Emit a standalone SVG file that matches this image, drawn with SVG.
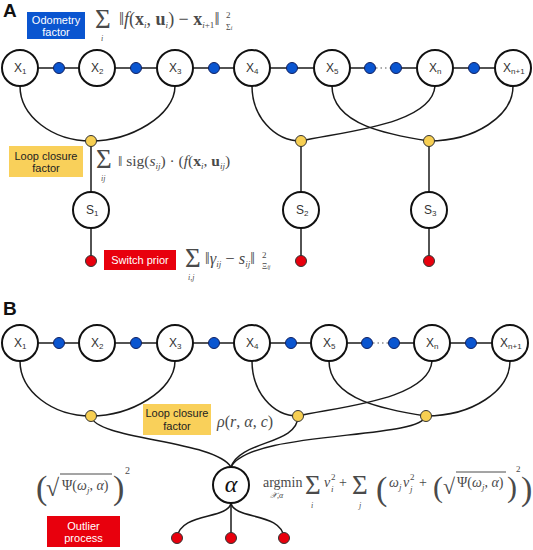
<svg xmlns="http://www.w3.org/2000/svg" width="533" height="550" viewBox="0 0 533 550">
<style>
.bg{fill:#ffffff}
.node circle{fill:#ffffff;stroke:#111111;stroke-width:2}
.lbl{font-family:"Liberation Sans",Arial,sans-serif;font-size:12px;fill:#333333}
.lbl .s{font-size:8px}
.edge{fill:none;stroke:#1a1a1a;stroke-width:1.5}
.dots{fill:none;stroke:#555555;stroke-width:1.2;stroke-dasharray:1.5 3}
.odo{fill:#0a55d0;stroke:#102060;stroke-width:1}
.loop{fill:#f7cf52;stroke:#333333;stroke-width:1}
.sw{fill:#e8000d;stroke:#333333;stroke-width:1}
.box-blue{fill:#0a55d0}
.box-yel{fill:#f9d05a}
.box-red{fill:#e8000d}
.bt{font-family:"Liberation Sans",Arial,sans-serif;font-size:11px;text-anchor:middle}
.w{fill:#ffffff}
.d{fill:#222222}
.panel{font-family:"Liberation Sans",Arial,sans-serif;font-size:19px;font-weight:bold;fill:#111111}
.m{font-family:"Liberation Serif","Times New Roman",serif;fill:#4a4a4a;font-size:14px}
.i{font-style:italic}
.b{font-weight:bold}
.sm{font-size:9px}
.ss{font-size:8px}
.sig{font-size:27px}
.alpha{font-family:"Liberation Serif","Times New Roman",serif;font-style:italic;font-size:24px;fill:#111111;text-anchor:middle}
</style>
<rect class="bg" x="0" y="0" width="533" height="550"/>

<!-- Panel labels -->
<text class="panel" x="3" y="17">A</text>
<text class="panel" x="3" y="315">B</text>

<!-- Connectors -->
<g id="connectors">
  <!-- Panel A chain -->
  <line class="edge" x1="38" y1="68" x2="79" y2="68"/>
  <line class="edge" x1="115" y1="68" x2="157" y2="68"/>
  <line class="edge" x1="193" y1="68" x2="234" y2="68"/>
  <line class="edge" x1="270" y1="68" x2="314" y2="68"/>
  <line class="edge" x1="350" y1="68" x2="370" y2="68"/>
  <line class="dots" x1="376" y1="68" x2="391" y2="68"/>
  <line class="edge" x1="396" y1="68" x2="417" y2="68"/>
  <line class="edge" x1="453" y1="68" x2="495" y2="68"/>
  <!-- Panel A loop closures -->
  <path class="edge" d="M20,86 C20,116 52,141 91,141"/>
  <path class="edge" d="M175,86 C175,116 130,141 91,141"/>
  <path class="edge" d="M252,86 C252,116 274,141 301,141"/>
  <path class="edge" d="M435,86 C432,125 340,132 301,141"/>
  <path class="edge" d="M332,86 C332,125 390,135 429,141"/>
  <path class="edge" d="M513,86 C513,116 475,141 429,141"/>
  <line class="edge" x1="91" y1="141" x2="91" y2="192"/>
  <line class="edge" x1="91" y1="228" x2="91" y2="261"/>
  <line class="edge" x1="301" y1="141" x2="301" y2="192"/>
  <line class="edge" x1="301" y1="228" x2="301" y2="261"/>
  <line class="edge" x1="429" y1="141" x2="429" y2="192"/>
  <line class="edge" x1="429" y1="228" x2="429" y2="261"/>

  <!-- Panel B chain -->
  <line class="edge" x1="38" y1="343" x2="79" y2="343"/>
  <line class="edge" x1="115" y1="343" x2="157" y2="343"/>
  <line class="edge" x1="193" y1="343" x2="234" y2="343"/>
  <line class="edge" x1="270" y1="343" x2="311" y2="343"/>
  <line class="edge" x1="347" y1="343" x2="367" y2="343"/>
  <line class="dots" x1="373" y1="343" x2="388" y2="343"/>
  <line class="edge" x1="394" y1="343" x2="414" y2="343"/>
  <line class="edge" x1="450" y1="343" x2="492" y2="343"/>
  <!-- Panel B loop closures -->
  <path class="edge" d="M20,361 C20,391 52,416 91,416"/>
  <path class="edge" d="M175,361 C175,391 130,416 91,416"/>
  <path class="edge" d="M252,361 C252,391 272,416 298,416"/>
  <path class="edge" d="M432,361 C429,400 337,407 298,416"/>
  <path class="edge" d="M329,361 C329,400 387,410 426,416"/>
  <path class="edge" d="M510,361 C510,391 472,416 426,416"/>
  <!-- to alpha -->
  <path class="edge" d="M91,416 C95,440 215,440 231,467"/>
  <path class="edge" d="M298,416 C298,445 240,440 231,467"/>
  <path class="edge" d="M426,416 C420,440 250,430 231,467"/>
  <!-- alpha to outlier priors -->
  <path class="edge" d="M231,503 C228,520 180,512 177,538"/>
  <line class="edge" x1="231" y1="503" x2="231" y2="538"/>
  <path class="edge" d="M231,503 C234,520 282,512 284,538"/>
</g>

<!-- Panel A nodes -->
<g id="A-X1" class="node"><circle cx="20" cy="68" r="18"/><text class="lbl" x="14" y="72">X<tspan class="s" dy="2">1</tspan></text></g>
<g id="A-X2" class="node"><circle cx="97" cy="68" r="18"/><text class="lbl" x="91" y="72">X<tspan class="s" dy="2">2</tspan></text></g>
<g id="A-X3" class="node"><circle cx="175" cy="68" r="18"/><text class="lbl" x="169" y="72">X<tspan class="s" dy="2">3</tspan></text></g>
<g id="A-X4" class="node"><circle cx="252" cy="68" r="18"/><text class="lbl" x="246" y="72">X<tspan class="s" dy="2">4</tspan></text></g>
<g id="A-X5" class="node"><circle cx="332" cy="68" r="18"/><text class="lbl" x="326" y="72">X<tspan class="s" dy="2">5</tspan></text></g>
<g id="A-Xn" class="node"><circle cx="435" cy="68" r="18"/><text class="lbl" x="429" y="72">X<tspan class="s" dy="2">n</tspan></text></g>
<g id="A-Xn1" class="node"><circle cx="513" cy="68" r="18"/><text class="lbl" x="503" y="72">X<tspan class="s" dy="2">n+1</tspan></text></g>

<g id="A-odo-factors">
  <circle class="odo" cx="59" cy="68" r="5.5"/>
  <circle class="odo" cx="136" cy="68" r="5.5"/>
  <circle class="odo" cx="214" cy="68" r="5.5"/>
  <circle class="odo" cx="292" cy="68" r="5.5"/>
  <circle class="odo" cx="370" cy="68" r="5.5"/>
  <circle class="odo" cx="396" cy="68" r="5.5"/>
  <circle class="odo" cx="474" cy="68" r="5.5"/>
</g>
<g id="A-loop-factors">
  <circle class="loop" cx="91" cy="141" r="5.5"/>
  <circle class="loop" cx="301" cy="141" r="5.5"/>
  <circle class="loop" cx="429" cy="141" r="5.5"/>
</g>
<g id="A-S1" class="node"><circle cx="91" cy="210" r="18"/><text class="lbl" x="86" y="214">S<tspan class="s" dy="2">1</tspan></text></g>
<g id="A-S2" class="node"><circle cx="301" cy="210" r="18"/><text class="lbl" x="296" y="214">S<tspan class="s" dy="2">2</tspan></text></g>
<g id="A-S3" class="node"><circle cx="429" cy="210" r="18"/><text class="lbl" x="424" y="214">S<tspan class="s" dy="2">3</tspan></text></g>
<g id="A-switch-priors">
  <circle class="sw" cx="91" cy="261" r="5.5"/>
  <circle class="sw" cx="301" cy="261" r="5.5"/>
  <circle class="sw" cx="429" cy="261" r="5.5"/>
</g>

<!-- Panel A legend boxes -->
<g id="A-odometry-label">
  <rect class="box-blue" x="27" y="12" width="58" height="27"/>
  <text class="bt w" x="56" y="24">Odometry</text>
  <text class="bt w" x="56" y="36">factor</text>
</g>
<g id="A-loop-label">
  <rect class="box-yel" x="9" y="146" width="74" height="31"/>
  <text class="bt d" x="46" y="160">Loop closure</text>
  <text class="bt d" x="46" y="172">factor</text>
</g>
<g id="A-switch-label">
  <rect class="box-red" x="104" y="250" width="72" height="20"/>
  <text class="bt w" x="140" y="264">Switch prior</text>
</g>

<!-- Panel A formulas -->
<g id="A-formula-odo">
  <text class="m sig" x="95" y="28">Σ</text>
  <text class="m i ss" x="101" y="41">i</text>
  <text class="m" x="119" y="25" style="font-size:18px">‖<tspan class="i">f</tspan>(<tspan class="b">x</tspan><tspan class="i sm" dy="3">i</tspan><tspan dy="-3">, </tspan><tspan class="b">u</tspan><tspan class="i sm" dy="3">i</tspan><tspan dy="-3">) − </tspan><tspan class="b">x</tspan><tspan class="i sm" dy="3">i</tspan><tspan class="sm">+1</tspan><tspan dy="-3">‖</tspan></text>
  <text class="m sm" x="226" y="18">2</text>
  <text class="m ss" x="226" y="30">Σ<tspan class="i" style="font-size:6px">i</tspan></text>
</g>
<g id="A-formula-loop">
  <text class="m sig" x="96" y="168">Σ</text>
  <text class="m i ss" x="101" y="181">ij</text>
  <text class="m" x="118" y="166" style="font-size:15.5px">‖ sig(<tspan class="i">s</tspan><tspan class="i sm" dy="3">ij</tspan><tspan dy="-3">) · (</tspan><tspan class="i">f</tspan>(<tspan class="b">x</tspan><tspan class="i sm" dy="3">i</tspan><tspan dy="-3">, </tspan><tspan class="b">u</tspan><tspan class="i sm" dy="3">ij</tspan><tspan dy="-3">)</tspan></text>
</g>
<g id="A-formula-switch">
  <text class="m sig" x="185" y="267">Σ</text>
  <text class="m i ss" x="188" y="280">i,j</text>
  <text class="m" x="205" y="264" style="font-size:16.5px">‖<tspan class="i">γ</tspan><tspan class="i sm" dy="3">ij</tspan><tspan dy="-3">  −  </tspan><tspan class="i">s</tspan><tspan class="i sm" dy="3">ij</tspan><tspan dy="-3">‖</tspan></text>
  <text class="m sm" x="262" y="258">2</text>
  <text class="m ss" x="262" y="269">Ξ<tspan class="i" style="font-size:6px">ij</tspan></text>
</g>

<!-- Panel B nodes -->
<g id="B-X1" class="node"><circle cx="20" cy="343" r="18"/><text class="lbl" x="14" y="347">X<tspan class="s" dy="2">1</tspan></text></g>
<g id="B-X2" class="node"><circle cx="97" cy="343" r="18"/><text class="lbl" x="91" y="347">X<tspan class="s" dy="2">2</tspan></text></g>
<g id="B-X3" class="node"><circle cx="175" cy="343" r="18"/><text class="lbl" x="169" y="347">X<tspan class="s" dy="2">3</tspan></text></g>
<g id="B-X4" class="node"><circle cx="252" cy="343" r="18"/><text class="lbl" x="246" y="347">X<tspan class="s" dy="2">4</tspan></text></g>
<g id="B-X5" class="node"><circle cx="329" cy="343" r="18"/><text class="lbl" x="323" y="347">X<tspan class="s" dy="2">5</tspan></text></g>
<g id="B-Xn" class="node"><circle cx="432" cy="343" r="18"/><text class="lbl" x="426" y="347">X<tspan class="s" dy="2">n</tspan></text></g>
<g id="B-Xn1" class="node"><circle cx="510" cy="343" r="18"/><text class="lbl" x="500" y="347">X<tspan class="s" dy="2">n+1</tspan></text></g>

<g id="B-odo-factors">
  <circle class="odo" cx="59" cy="343" r="5.5"/>
  <circle class="odo" cx="136" cy="343" r="5.5"/>
  <circle class="odo" cx="214" cy="343" r="5.5"/>
  <circle class="odo" cx="291" cy="343" r="5.5"/>
  <circle class="odo" cx="367" cy="343" r="5.5"/>
  <circle class="odo" cx="394" cy="343" r="5.5"/>
  <circle class="odo" cx="471" cy="343" r="5.5"/>
</g>
<g id="B-loop-factors">
  <circle class="loop" cx="91" cy="416" r="5.5"/>
  <circle class="loop" cx="298" cy="416" r="5.5"/>
  <circle class="loop" cx="426" cy="416" r="5.5"/>
</g>
<g id="B-alpha" class="node"><circle cx="231" cy="485" r="18"/><text class="alpha" x="231" y="492">α</text></g>
<g id="B-outlier-priors">
  <circle class="sw" cx="177" cy="538" r="5.5"/>
  <circle class="sw" cx="231" cy="538" r="5.5"/>
  <circle class="sw" cx="284" cy="538" r="5.5"/>
</g>

<!-- Panel B legend boxes -->
<g id="B-loop-label">
  <rect class="box-yel" x="143" y="404" width="68" height="31"/>
  <text class="bt d" x="177" y="417">Loop closure</text>
  <text class="bt d" x="177" y="430">factor</text>
</g>
<g id="B-outlier-label">
  <rect class="box-red" x="47" y="516" width="73" height="31"/>
  <text class="bt w" x="83.5" y="530">Outlier</text>
  <text class="bt w" x="83.5" y="542">process</text>
</g>

<!-- Panel B formulas -->
<g id="B-formula-rho">
  <text class="m" x="217" y="427" style="font-size:16px"><tspan class="i">ρ</tspan>(<tspan class="i">r</tspan>, <tspan class="i">α</tspan>, <tspan class="i">c</tspan>)</text>
</g>
<g id="B-formula-psi">
  <text class="m" x="36" y="499" style="font-size:34px">(</text>
  <text class="m" x="46" y="496" style="font-size:24px">√</text>
  <line x1="60" y1="474" x2="112" y2="474" stroke="#4a4a4a" stroke-width="1"/>
  <text class="m" x="62" y="490">Ψ(<tspan class="i">ω</tspan><tspan class="i sm" dy="3">j</tspan><tspan dy="-3">, </tspan><tspan class="i">α</tspan>)</text>
  <text class="m" x="113" y="499" style="font-size:34px">)</text>
  <text class="m sm" x="125" y="474" style="font-size:10px">2</text>
</g>
<g id="B-formula-argmin">
  <text class="m" x="263" y="487">argmin</text>
  <text class="m i ss" x="270" y="498">𝒳,α</text>
  <text class="m sig" x="305" y="494">Σ</text>
  <text class="m i ss" x="311" y="508">i</text>
  <text class="m i" x="324" y="487">ν</text>
  <text class="m sm" x="331" y="480">2</text>
  <text class="m i sm" x="331" y="492">i</text>
  <text class="m" x="339" y="487">+</text>
  <text class="m sig" x="352" y="494">Σ</text>
  <text class="m i ss" x="359" y="508">j</text>
  <text class="m" x="376" y="500" style="font-size:34px">(</text>
  <text class="m i" x="389" y="487">ω</text>
  <text class="m i sm" x="399" y="490">j</text>
  <text class="m i" x="403" y="487">ν</text>
  <text class="m sm" x="410" y="480">2</text>
  <text class="m i sm" x="410" y="492">j</text>
  <text class="m" x="419" y="487">+</text>
  <text class="m" x="433" y="497" style="font-size:30px">(</text>
  <text class="m" x="443" y="494" style="font-size:22px">√</text>
  <line x1="456" y1="472" x2="506" y2="472" stroke="#4a4a4a" stroke-width="1"/>
  <text class="m" x="457" y="487">Ψ(<tspan class="i">ω</tspan><tspan class="i sm" dy="3">j</tspan><tspan dy="-3">, </tspan><tspan class="i">α</tspan>)</text>
  <text class="m" x="507" y="497" style="font-size:30px">)</text>
  <text class="m sm" x="516" y="472">2</text>
  <text class="m" x="521" y="500" style="font-size:34px">)</text>
</g>
</svg>
